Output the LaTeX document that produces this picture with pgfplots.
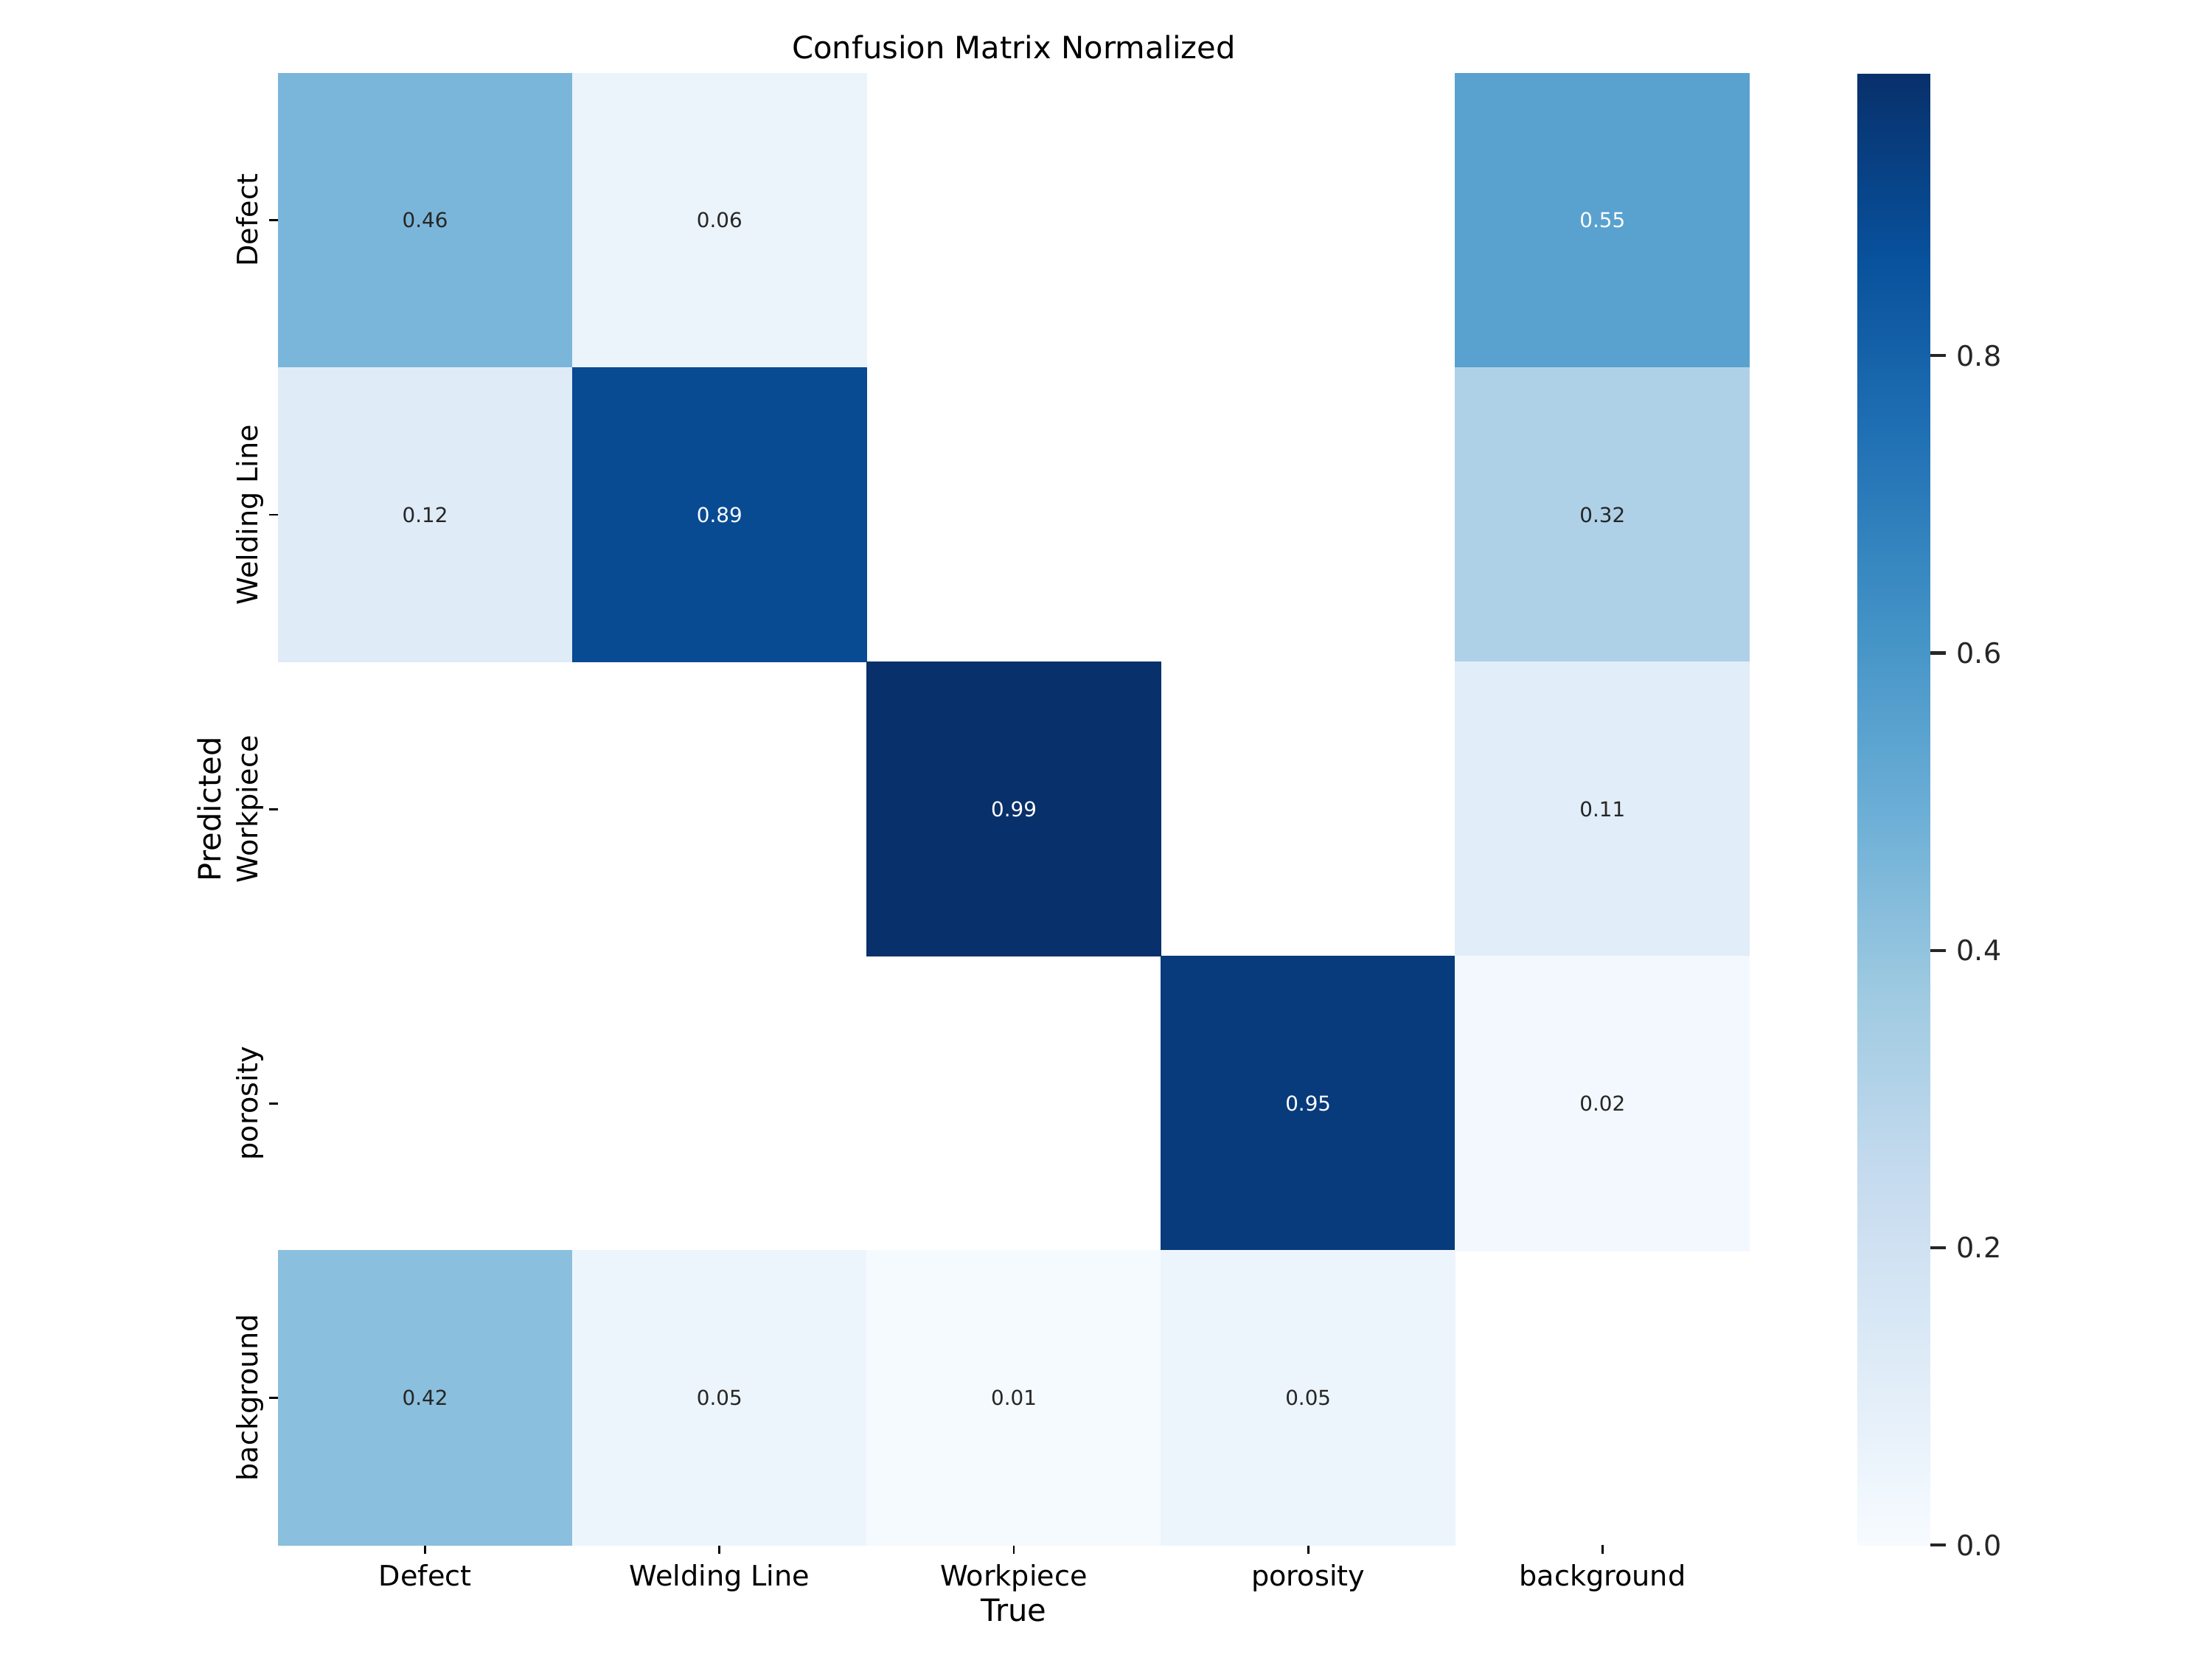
\documentclass[border=0pt]{standalone}
\usepackage{pgfplots}
\pgfplotsset{compat=1.18}
\usepgfplotslibrary{patchplots}
\usepackage{fontspec}
\setmainfont{DejaVu Sans}
\definecolor{txt}{HTML}{262626}
\begin{document}
\begin{tikzpicture}
\useasboundingbox (-108.6pt,-44.6pt) rectangle (755.4pt,603.4pt);
\begin{axis}[
  at={(0pt,0pt)}, anchor=south west,
  scale only axis, width=574.8pt, height=574.8pt,
  xmin=-0.5, xmax=4.5, ymin=-0.5, ymax=4.5,
  axis line style={draw=none},
  xtick={0,1,2,3,4}, ytick={0,1,2,3,4},
  xticklabels={Defect, Welding Line, Workpiece, porosity, background},
  yticklabels={background, porosity, Workpiece, Welding Line, Defect},
  xtick pos=bottom, ytick pos=left,
  tick align=outside, major tick length=3.5pt,
  tick style={black, line width=0.8pt},
  xticklabel style={anchor=north, inner sep=0pt, text height=8.2pt, text depth=2.6pt, yshift=-3.9pt, font=\fontsize{11}{13}\selectfont},
  yticklabel style={xshift=-4.3pt, rotate=90, anchor=base, inner sep=0pt, font=\fontsize{11}{13}\selectfont},
  colormap={blues}{rgb255(0cm)=(247,251,255); rgb255(1cm)=(222,235,247); rgb255(2cm)=(198,219,239); rgb255(3cm)=(158,202,225); rgb255(4cm)=(107,174,214); rgb255(5cm)=(66,146,198); rgb255(6cm)=(33,113,181); rgb255(7cm)=(8,81,156); rgb255(8cm)=(8,48,107)},
  point meta min=0, point meta max=0.99,
  colorbar,
  colorbar/width=28.5pt,
  colorbar style={
    at={(parent axis.north east)}, anchor=north west, xshift=33.5pt,
    scale only axis, width=28.5pt, height=574.8pt,
    axis line style={draw=none},
    xtick=\empty,
    ytick={0,0.2,0.4,0.6,0.8},
    ytick pos=right,
    yticklabel pos=right,
    tick align=outside, major tick length=6pt,
    tick style={txt, line width=1.25pt},
    yticklabel style={anchor=west, xshift=4.1pt, inner sep=0pt, text=txt, font=\fontsize{11}{13}\selectfont,
      /pgf/number format/.cd, fixed, fixed zerofill, precision=1, assume math mode=true},
  },
  title={Confusion Matrix Normalized},
  xlabel={True},
  ylabel={Predicted},
  every axis title/.style={at={(axis description cs:0.5,1)}, anchor=base, yshift=5.8pt, inner sep=0pt, font=\fontsize{12}{14.4}\selectfont},
  every axis x label/.style={at={(axis description cs:0.5,0)}, anchor=base, yshift=-29.7pt, inner sep=0pt, font=\fontsize{12}{14.4}\selectfont},
  every axis y label/.style={at={(axis description cs:0,0.5)}, xshift=-22.2pt, rotate=90, anchor=base, inner sep=0pt, font=\fontsize{12}{14.4}\selectfont},
]
% cells (x = True class, y = Predicted class; Defect row at top)
\addplot[patch, patch type=rectangle, shader=flat corner, point meta=explicit]
table[meta=c]{
x y c
-0.5 3.5 0.46
0.5 3.5 0.46
0.5 4.5 0.46
-0.5 4.5 0.46
0.5 3.5 0.06
1.5 3.5 0.06
1.5 4.5 0.06
0.5 4.5 0.06
3.5 3.5 0.55
4.5 3.5 0.55
4.5 4.5 0.55
3.5 4.5 0.55
-0.5 2.5 0.12
0.5 2.5 0.12
0.5 3.5 0.12
-0.5 3.5 0.12
0.5 2.5 0.89
1.5 2.5 0.89
1.5 3.5 0.89
0.5 3.5 0.89
3.5 2.5 0.32
4.5 2.5 0.32
4.5 3.5 0.32
3.5 3.5 0.32
1.5 1.5 0.99
2.5 1.5 0.99
2.5 2.5 0.99
1.5 2.5 0.99
3.5 1.5 0.11
4.5 1.5 0.11
4.5 2.5 0.11
3.5 2.5 0.11
2.5 0.5 0.95
3.5 0.5 0.95
3.5 1.5 0.95
2.5 1.5 0.95
3.5 0.5 0.02
4.5 0.5 0.02
4.5 1.5 0.02
3.5 1.5 0.02
-0.5 -0.5 0.42
0.5 -0.5 0.42
0.5 0.5 0.42
-0.5 0.5 0.42
0.5 -0.5 0.05
1.5 -0.5 0.05
1.5 0.5 0.05
0.5 0.5 0.05
1.5 -0.5 0.01
2.5 -0.5 0.01
2.5 0.5 0.01
1.5 0.5 0.01
2.5 -0.5 0.05
3.5 -0.5 0.05
3.5 0.5 0.05
2.5 0.5 0.05
};
% annotations, dark text
\addplot[draw=none, mark=none, nodes near coords, point meta=explicit symbolic,
  every node near coord/.append style={anchor=center, inner sep=0pt, text=txt, font=\fontsize{8}{9.6}\selectfont}]
table[meta=t]{
x y t
0 4 0.46
1 4 0.06
0 3 0.12
4 3 0.32
4 2 0.11
4 1 0.02
0 0 0.42
1 0 0.05
2 0 0.01
3 0 0.05
};
% annotations, white text
\addplot[draw=none, mark=none, nodes near coords, point meta=explicit symbolic,
  every node near coord/.append style={anchor=center, inner sep=0pt, text=white, font=\fontsize{8}{9.6}\selectfont}]
table[meta=t]{
x y t
4 4 0.55
1 3 0.89
2 2 0.99
3 1 0.95
};
\end{axis}
\end{tikzpicture}
\end{document}
